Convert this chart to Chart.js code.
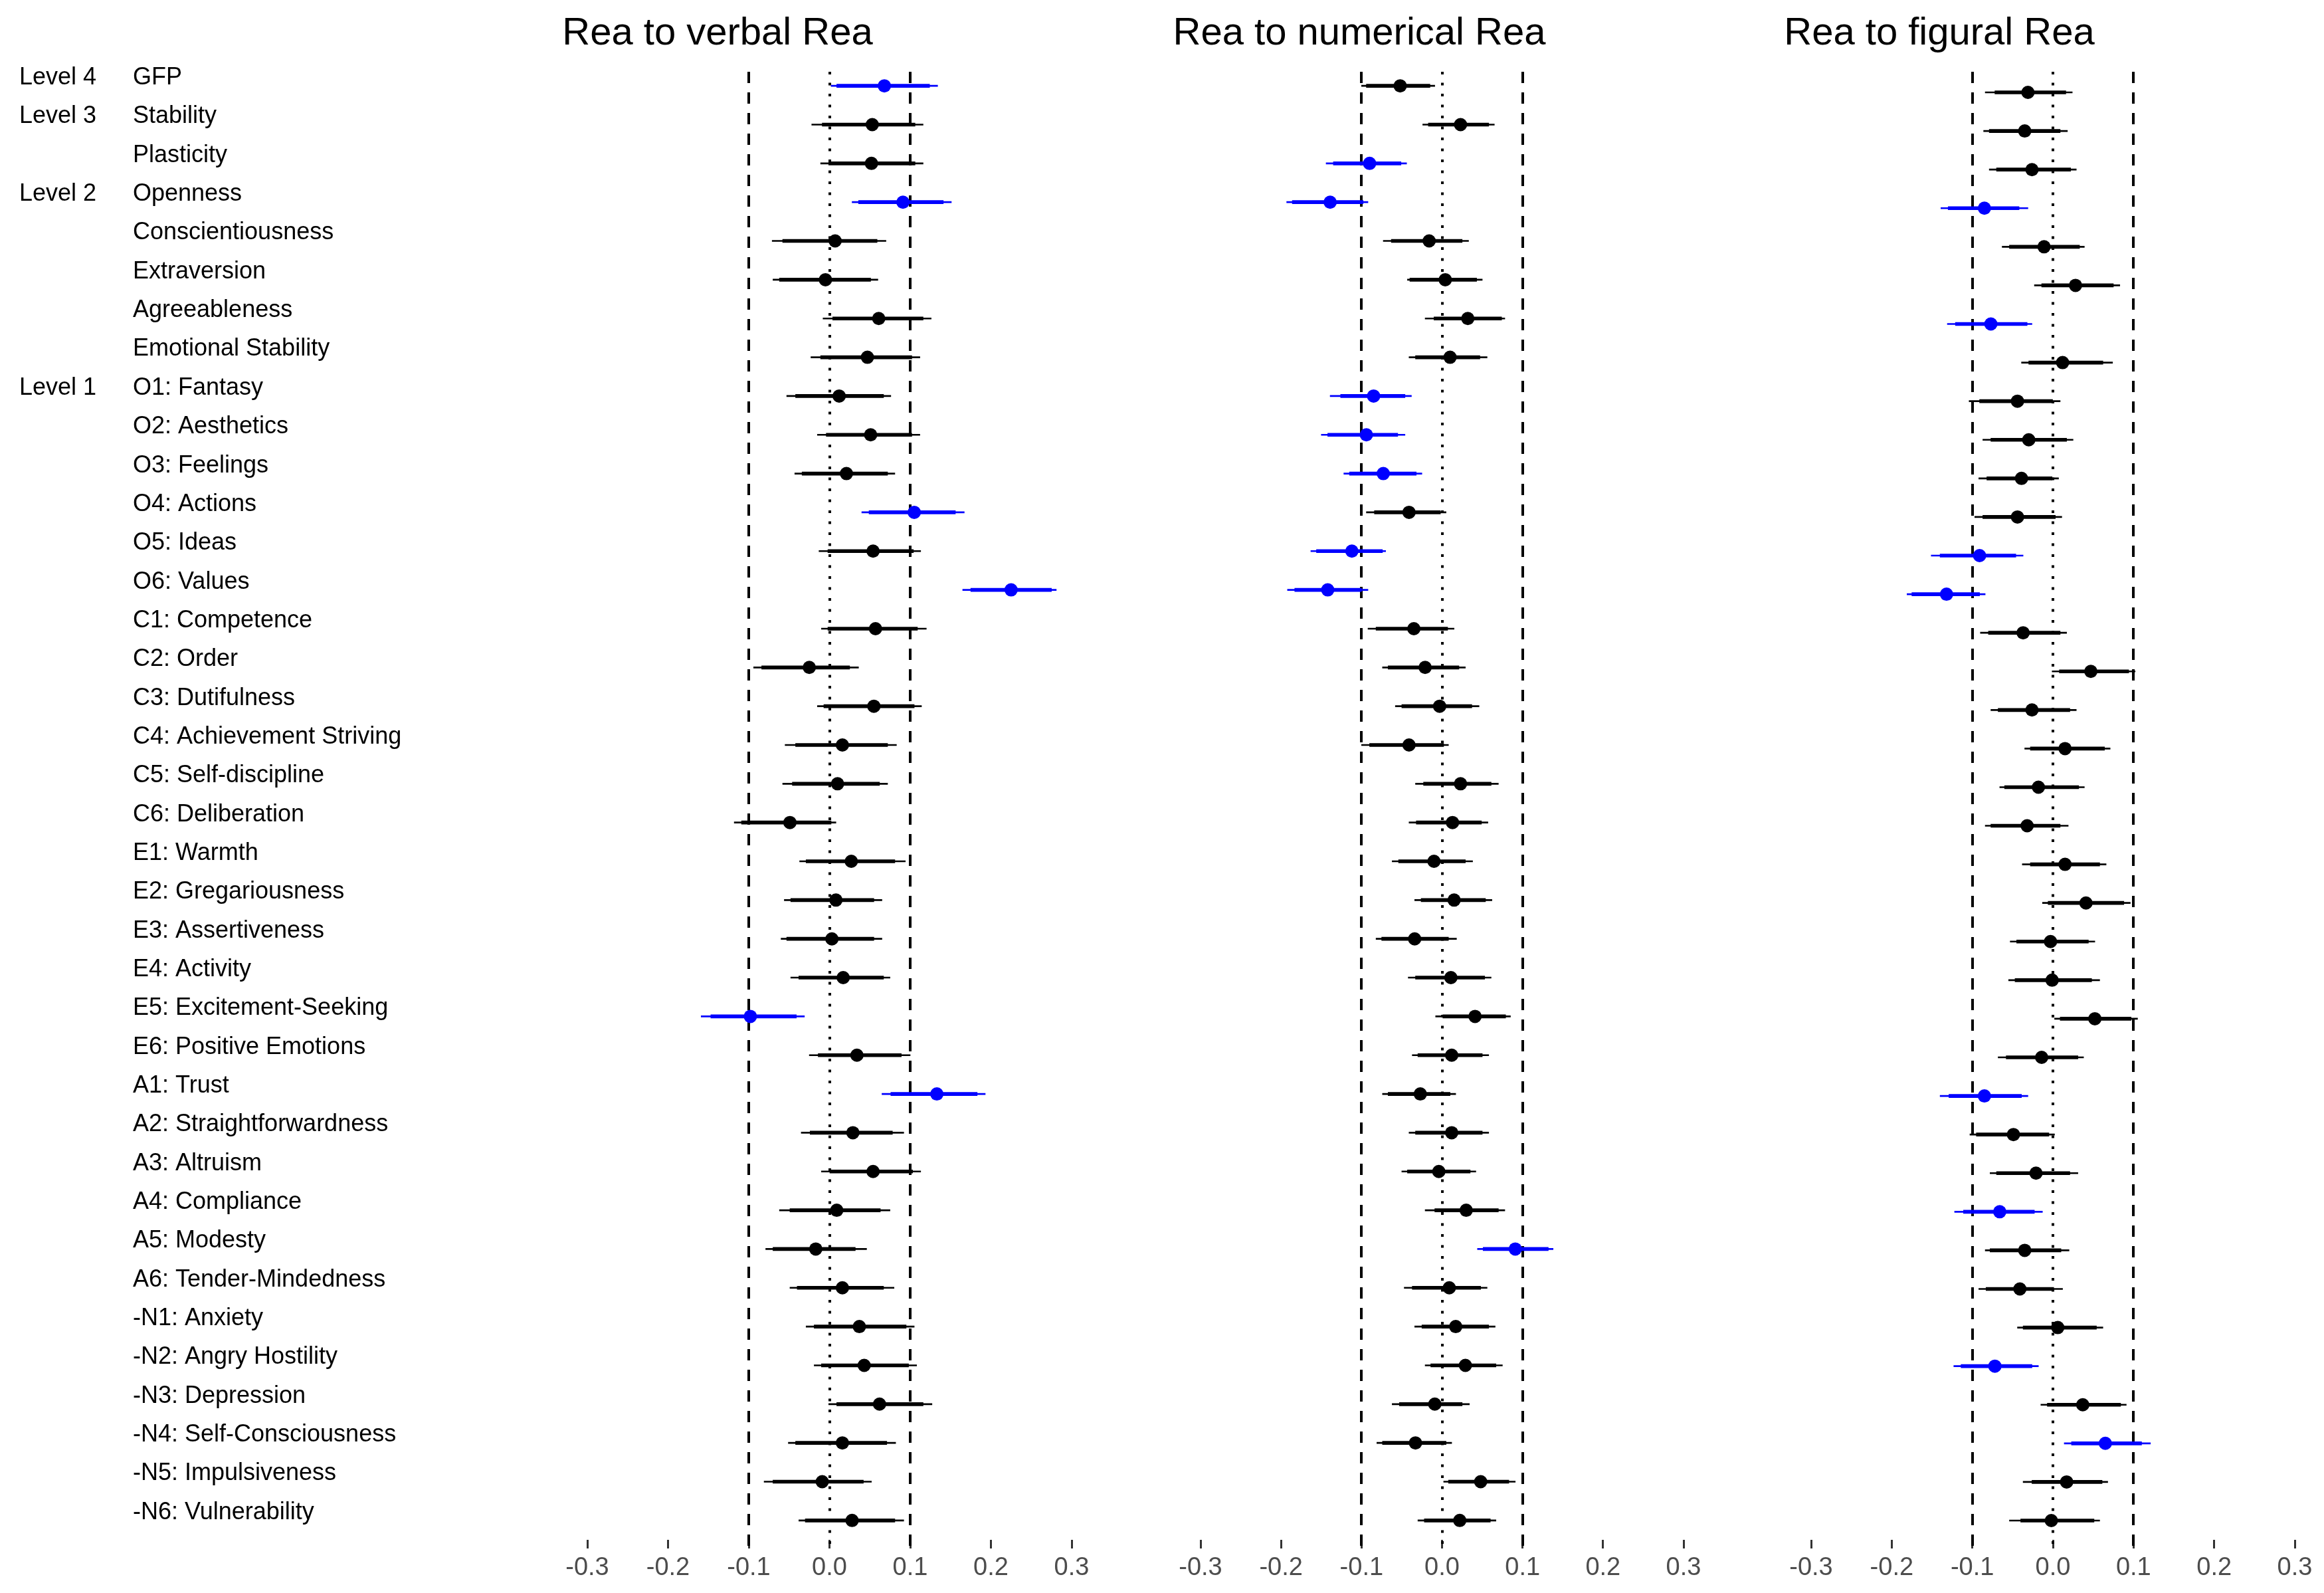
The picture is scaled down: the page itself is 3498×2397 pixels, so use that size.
<!DOCTYPE html>
<html>
<head>
<meta charset="utf-8">
<script src="https://cdn.jsdelivr.net/npm/chart.js@4.4.1/dist/chart.umd.min.js"></script>
<style>
  html,body{margin:0;padding:0;background:#fff;}
  #wrap{position:relative;width:3498px;height:2397px;overflow:hidden;}
  canvas{position:absolute;top:0;}
</style>
</head>
<body>
<div id="wrap">
  <canvas id="verbal" width="1650" height="2397" style="left:0"></canvas>
  <canvas id="numerical" width="920" height="2397" style="left:1650px"></canvas>
  <canvas id="figural" width="928" height="2397" style="left:2570px"></canvas>
</div>
<script>
const traits = ["GFP","Stability","Plasticity","Openness","Conscientiousness","Extraversion","Agreeableness","Emotional Stability",
  "O1: Fantasy","O2: Aesthetics","O3: Feelings","O4: Actions","O5: Ideas","O6: Values",
  "C1: Competence","C2: Order","C3: Dutifulness","C4: Achievement Striving","C5: Self-discipline","C6: Deliberation",
  "E1: Warmth","E2: Gregariousness","E3: Assertiveness","E4: Activity","E5: Excitement-Seeking","E6: Positive Emotions",
  "A1: Trust","A2: Straightforwardness","A3: Altruism","A4: Compliance","A5: Modesty","A6: Tender-Mindedness",
  "-N1: Anxiety","-N2: Angry Hostility","-N3: Depression","-N4: Self-Consciousness","-N5: Impulsiveness","-N6: Vulnerability"];
const levels = ["Level 4","Level 3","","Level 2","","","","","Level 1"].concat(Array(29).fill(""));
const xTicks = [-0.3,-0.2,-0.1,0,0.1,0.2,0.3];
const refDashed = [-0.1,0.1];
const refDotted = [0];
const panelTitles = ["Rea to verbal Rea","Rea to numerical Rea","Rea to figural Rea"];

// verbal
const verbalEst  = [0.068,0.053,0.052,0.091,0.007,-0.005,0.061,0.047,0.012,0.051,0.021,0.105,0.054,0.225,0.057,-0.025,0.055,0.016,0.010,-0.049,0.027,0.008,0.003,0.017,-0.098,0.034,0.133,0.029,0.054,0.009,-0.017,0.016,0.037,0.043,0.062,0.016,-0.009,0.028];
const verbalLo   = [0.002,-0.022,-0.011,0.028,-0.071,-0.070,-0.008,-0.023,-0.053,-0.015,-0.043,0.040,-0.013,0.165,-0.010,-0.094,-0.015,-0.055,-0.058,-0.118,-0.037,-0.056,-0.060,-0.048,-0.159,-0.025,0.065,-0.035,-0.010,-0.062,-0.079,-0.049,-0.029,-0.019,-0.001,-0.051,-0.081,-0.038];
const verbalHi   = [0.134,0.116,0.116,0.151,0.070,0.060,0.126,0.112,0.076,0.112,0.081,0.167,0.113,0.281,0.120,0.036,0.114,0.083,0.072,0.008,0.094,0.065,0.065,0.075,-0.031,0.100,0.193,0.092,0.113,0.075,0.046,0.080,0.105,0.108,0.127,0.082,0.052,0.092];
const verbalLo90 = [0.009,-0.009,-0.001,0.036,-0.058,-0.062,0.004,-0.011,-0.042,-0.004,-0.034,0.049,-0.002,0.175,-0.002,-0.084,-0.007,-0.042,-0.046,-0.109,-0.029,-0.048,-0.053,-0.038,-0.147,-0.014,0.076,-0.024,0.000,-0.049,-0.070,-0.040,-0.019,-0.010,0.009,-0.042,-0.070,-0.030];
const verbalHi90 = [0.124,0.106,0.106,0.141,0.059,0.051,0.116,0.102,0.067,0.102,0.072,0.156,0.104,0.275,0.109,0.025,0.105,0.072,0.062,0.002,0.081,0.055,0.055,0.067,-0.041,0.089,0.183,0.078,0.103,0.063,0.032,0.067,0.095,0.098,0.116,0.071,0.042,0.081];
const verbalSig  = ["GFP","Openness","O4: Actions","O6: Values","E5: Excitement-Seeking","A1: Trust"];

// numerical
const numEst  = [-0.052,0.023,-0.090,-0.139,-0.016,0.004,0.032,0.010,-0.085,-0.094,-0.073,-0.041,-0.112,-0.142,-0.035,-0.021,-0.003,-0.041,0.023,0.013,-0.010,0.015,-0.034,0.011,0.041,0.012,-0.027,0.012,-0.004,0.030,0.091,0.009,0.017,0.029,-0.009,-0.033,0.048,0.022];
const numLo   = [-0.100,-0.024,-0.144,-0.193,-0.073,-0.043,-0.021,-0.041,-0.139,-0.150,-0.122,-0.094,-0.163,-0.192,-0.092,-0.074,-0.058,-0.100,-0.033,-0.041,-0.062,-0.034,-0.082,-0.042,-0.008,-0.037,-0.074,-0.041,-0.050,-0.021,0.044,-0.047,-0.034,-0.021,-0.062,-0.081,0.002,-0.030];
const numHi   = [-0.009,0.065,-0.044,-0.092,0.033,0.050,0.078,0.056,-0.038,-0.046,-0.025,0.005,-0.070,-0.092,0.015,0.029,0.046,0.008,0.070,0.057,0.038,0.062,0.018,0.061,0.085,0.058,0.017,0.058,0.042,0.078,0.138,0.056,0.066,0.075,0.034,0.012,0.091,0.067];
const numLo90 = [-0.094,-0.017,-0.135,-0.186,-0.063,-0.040,-0.010,-0.033,-0.126,-0.142,-0.115,-0.084,-0.156,-0.183,-0.082,-0.067,-0.050,-0.090,-0.023,-0.032,-0.054,-0.026,-0.075,-0.033,0.001,-0.030,-0.067,-0.033,-0.043,-0.009,0.051,-0.037,-0.025,-0.014,-0.053,-0.074,0.008,-0.022];
const numHi90 = [-0.015,0.058,-0.051,-0.098,0.025,0.043,0.074,0.047,-0.046,-0.055,-0.032,-0.002,-0.074,-0.100,0.007,0.021,0.037,0.002,0.061,0.049,0.029,0.054,0.008,0.053,0.079,0.050,0.010,0.050,0.035,0.070,0.132,0.048,0.058,0.067,0.025,0.005,0.083,0.060];
const numSig  = ["Plasticity","Openness","O1: Fantasy","O2: Aesthetics","O3: Feelings","O5: Ideas","O6: Values","A5: Modesty"];

// figural
const figEst  = [-0.031,-0.035,-0.026,-0.085,-0.011,0.028,-0.077,0.012,-0.044,-0.030,-0.039,-0.044,-0.091,-0.132,-0.037,0.047,-0.026,0.015,-0.018,-0.032,0.015,0.041,-0.003,-0.001,0.052,-0.014,-0.085,-0.049,-0.021,-0.066,-0.035,-0.041,0.006,-0.072,0.037,0.065,0.017,-0.002];
const figLo   = [-0.084,-0.086,-0.079,-0.139,-0.063,-0.023,-0.131,-0.039,-0.104,-0.087,-0.092,-0.097,-0.151,-0.181,-0.090,-0.001,-0.077,-0.035,-0.066,-0.084,-0.038,-0.013,-0.053,-0.055,0.002,-0.068,-0.140,-0.103,-0.078,-0.122,-0.084,-0.092,-0.044,-0.123,-0.015,0.014,-0.037,-0.054];
const figHi   = [0.024,0.018,0.029,-0.031,0.039,0.083,-0.026,0.074,0.009,0.025,0.007,0.011,-0.037,-0.084,0.017,0.102,0.029,0.071,0.039,0.019,0.066,0.096,0.052,0.058,0.105,0.038,-0.031,0.002,0.031,-0.013,0.020,0.012,0.062,-0.018,0.091,0.121,0.068,0.058];
const figLo90 = [-0.072,-0.079,-0.070,-0.130,-0.054,-0.014,-0.121,-0.030,-0.091,-0.077,-0.082,-0.087,-0.140,-0.175,-0.080,0.008,-0.068,-0.028,-0.060,-0.077,-0.028,-0.006,-0.045,-0.047,0.009,-0.058,-0.129,-0.095,-0.070,-0.111,-0.078,-0.083,-0.037,-0.114,-0.007,0.023,-0.026,-0.040];
const figHi90 = [0.016,0.009,0.022,-0.042,0.033,0.075,-0.032,0.062,0.000,0.017,-0.001,0.003,-0.046,-0.091,0.009,0.094,0.021,0.064,0.032,0.009,0.058,0.088,0.044,0.048,0.097,0.031,-0.039,-0.005,0.021,-0.023,0.010,0.001,0.054,-0.026,0.084,0.110,0.061,0.051];
const figSig  = ["Openness","Agreeableness","O5: Ideas","O6: Values","A1: Trust","A4: Compliance","-N2: Angry Hostility","-N4: Self-Consciousness"];

const FONT = "'Liberation Sans', Arial, sans-serif";

// dashed / dotted reference lines + panel title
const refLines = {
  id: "refLines",
  beforeDatasetsDraw(chart, args, opts){
    const {ctx, chartArea:a, scales:{x}} = chart;
    ctx.save();
    ctx.strokeStyle = "#000";
    ctx.lineCap = "butt";
    const line = (v, dash) => {
      const px = Math.round(x.getPixelForValue(v));
      ctx.lineWidth = 4; ctx.setLineDash(dash);
      ctx.beginPath(); ctx.moveTo(px, opts.top); ctx.lineTo(px, a.bottom + 18); ctx.stroke();
    };
    refDashed.forEach(v => line(v, [17, 14]));
    refDotted.forEach(v => line(v, [4, 12.5]));
    ctx.restore();
  },
  afterDraw(chart, args, opts){
    const ctx = chart.ctx;
    ctx.save();
    ctx.font = `58px ${FONT}`;
    ctx.fillStyle = "#000";
    ctx.textAlign = "center";
    ctx.textBaseline = "alphabetic";
    ctx.fillText(opts.text, chart.chartArea.left + opts.dx, 67);
    ctx.restore();
  }
};

function makePanel(id, title, dx, est, lo, hi, lo90, hi90, sig, pad, withLabels){
  const col = traits.map(t => sig.includes(t) ? "#0000ff" : "#000000");
  const labelAxis = (labels, weight, width) => ({
    type: "category", labels, position: "left", offset: true, weight,
    display: withLabels,
    afterFit: s => { s.width = withLabels ? width : 0; },
    border: {display: false},
    grid: {display: false, drawTicks: false},
    ticks: {autoSkip: false, crossAlign: "far", padding: 0, labelOffset: -12, color: "#000",
            font: {family: FONT, size: 36}}
  });
  const scales = {
    x: {
      type: "linear", min: -0.3, max: 0.3,
      afterBuildTicks: s => { s.ticks = xTicks.map(v => ({value: v})); },
      afterFit: s => { s.height = 2397 - 2317; },
      border: {display: false},
      grid: {drawOnChartArea: false, drawTicks: true, tickLength: 13, tickWidth: 3, tickColor: "#333333"},
      ticks: {padding: 7, color: "#4d4d4d", maxRotation: 0, font: {family: FONT, size: 38},
              callback: v => Math.abs(v) < 1e-9 ? "0.0" : Number(v).toFixed(1)}
    },
    y: labelAxis(traits, 0, 684)
  };
  if (withLabels) scales.yLevel = labelAxis(levels, 1, 171);
  return new Chart(document.getElementById(id), {
    type: "bar",
    data: {
      labels: traits,
      datasets: [
        {type: "line", data: est, showLine: false, pointRadius: 10, pointHoverRadius: 10,
         pointBorderWidth: 0, pointBackgroundColor: col, order: 0},
        {data: lo90.map((v,i) => [v, hi90[i]]), backgroundColor: col, barThickness: 5, grouped: false, order: 1},
        {data: lo.map((v,i) => [v, hi[i]]), backgroundColor: col, barThickness: 2, grouped: false, order: 2}
      ]
    },
    options: {
      indexAxis: "y",
      responsive: false,
      animation: false,
      events: [],
      layout: {padding: pad},
      scales,
      plugins: {legend: {display: false}, tooltip: {enabled: false}, refLines: {text: title, dx, top: 108}}
    },
    plugins: [refLines]
  });
}

makePanel("verbal", panelTitles[0], 196, verbalEst, verbalLo, verbalHi, verbalLo90, verbalHi90, verbalSig,
  {left: 29, right: 37, top: 100, bottom: 0}, true);
makePanel("numerical", panelTitles[1], 239, numEst, numLo, numHi, numLo90, numHi90, numSig,
  {left: 157, right: 36, top: 100, bottom: 0}, false);
makePanel("figural", panelTitles[2], 193, figEst, figLo, figHi, figLo90, figHi90, figSig,
  {left: 156, right: 44, top: 110, bottom: 0}, false);
</script>
</body>
</html>
